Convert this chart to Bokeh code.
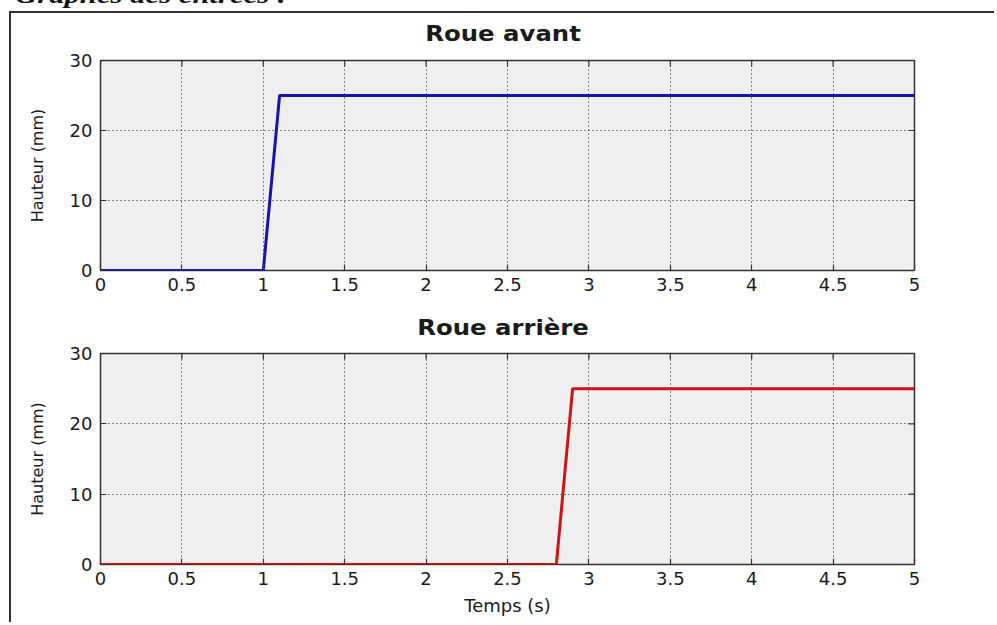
from bokeh.plotting import figure
from bokeh.layouts import column
from bokeh.models import Range1d, FixedTicker, Div
from bokeh.embed import file_html
from bokeh.resources import INLINE

# ---- data ----
t_avant = [0.0, 1.0, 1.1, 5.0]
h_avant = [0.0, 0.0, 25.0, 25.0]
t_arriere = [0.0, 2.8, 2.9, 5.0]
h_arriere = [0.0, 0.0, 25.0, 25.0]

x_ticks = [0, 0.5, 1, 1.5, 2, 2.5, 3, 3.5, 4, 4.5, 5]
x_tick_labels = ["0", "0.5", "1", "1.5", "2", "2.5", "3", "3.5", "4", "4.5", "5"]
y_ticks = [0, 10, 20, 30]
y_tick_labels = ["0", "10", "20", "30"]

titles = ["Roue avant", "Roue arrière"]
y_label = "Hauteur (mm)"
x_label = "Temps (s)"
header_text = "Graphes des entrées :"

X_MIN, X_MAX = 0, 5
Y_MIN, Y_MAX = 0, 30

FONT = "DejaVu Sans"
TXT = "#1a1a1a"
FRAME_W = 814
BORDER_L, BORDER_R = 89, 80
FIG_W = BORDER_L + FRAME_W + BORDER_R
TICK_PX = 6


def make_fig(t, h, color, top, bottom, height, show_xlabel):
    p = figure(
        frame_width=FRAME_W, frame_height=height,
        min_border_left=BORDER_L, min_border_right=BORDER_R,
        min_border_top=top, min_border_bottom=bottom,
        x_range=Range1d(X_MIN, X_MAX), y_range=Range1d(Y_MIN, Y_MAX),
        output_backend="svg", toolbar_location=None,
        background_fill_color="#efefef", border_fill_color="white",
    )
    p.outline_line_color = "#333333"
    p.outline_line_width = 1.5
    p.outline_line_alpha = 1.0

    p.xaxis.ticker = FixedTicker(ticks=x_ticks)
    p.xaxis.major_label_overrides = dict(zip(x_ticks, x_tick_labels))
    p.yaxis.ticker = FixedTicker(ticks=y_ticks)
    p.yaxis.major_label_overrides = dict(zip(y_ticks, y_tick_labels))

    for ax in (p.xaxis[0], p.yaxis[0]):
        ax.axis_line_color = None
        ax.major_tick_in = TICK_PX
        ax.major_tick_out = 0
        ax.major_tick_line_color = "#333333"
        ax.major_tick_line_width = 1.2
        ax.minor_tick_line_color = None
        ax.major_label_text_font = FONT
        ax.major_label_text_font_size = "18px"
        ax.major_label_text_color = TXT
        ax.axis_label_text_font = FONT
        ax.axis_label_text_font_style = "normal"
        ax.axis_label_text_color = TXT
    p.xaxis.major_label_standoff = 7
    p.yaxis.major_label_standoff = 8
    p.yaxis.axis_label = y_label
    p.yaxis.axis_label_text_font_size = "16px"
    p.yaxis.axis_label_standoff = 20
    if show_xlabel:
        p.xaxis.axis_label = x_label
        p.xaxis.axis_label_text_font_size = "18px"
        p.xaxis.axis_label_standoff = 7

    p.xgrid.ticker = FixedTicker(ticks=x_ticks)
    p.ygrid.ticker = FixedTicker(ticks=y_ticks)
    p.grid.grid_line_color = "black"
    p.grid.grid_line_dash = "1 3"
    p.grid.grid_line_width = 1
    p.grid.grid_line_alpha = 0.9

    # inward ticks on the top and right edges of the box (MATLAB style)
    dy = TICK_PX * (Y_MAX - Y_MIN) / height
    dx = TICK_PX * (X_MAX - X_MIN) / FRAME_W
    p.segment(x0=x_ticks, y0=[Y_MAX] * len(x_ticks),
              x1=x_ticks, y1=[Y_MAX - dy] * len(x_ticks),
              line_color="#333333", line_width=1.2)
    p.segment(x0=[X_MAX] * len(y_ticks), y0=y_ticks,
              x1=[X_MAX - dx] * len(y_ticks), y1=y_ticks,
              line_color="#333333", line_width=1.2)

    p.line(t, h, line_color=color, line_width=3)
    return p


def title_div(text, h, pad):
    html = ('<div style="box-sizing:border-box;width:%dpx;height:%dpx;'
            'padding-left:1px;padding-top:%dpx;text-align:center;'
            "font-family:'DejaVu Sans';font-weight:bold;font-size:21px;"
            'line-height:24px;color:%s;white-space:nowrap;">'
            '<span style="display:inline-block;transform:scaleX(1.16);">%s</span></div>'
            % (FIG_W, h, pad, TXT, text))
    return Div(text=html, width=FIG_W, height=h, margin=(0, 0, 0, 0))


f1 = make_fig(t_avant, h_avant, "#1414b0", 13, 40, 210, False)
f2 = make_fig(t_arriere, h_arriere, "#d01414", 13, 58, 211, True)

d1 = title_div(titles[0], 34, 9)
d2 = title_div(titles[1], 30, 6)

header = Div(
    text=('<div style="position:relative;top:-22px;left:15px;'
          "font-family:'Liberation Serif';font-style:italic;font-weight:bold;"
          'font-size:24px;white-space:nowrap;color:#111;'
          'transform:scaleX(1.28);transform-origin:left;">' + header_text + '</div>'),
    width=340, height=11, margin=(0, 0, 0, 0),
    styles={"overflow": "visible"},
)

inner = column(d1, f1, d2, f2, margin=(0, 0, 0, 9),
               styles={"border-left": "2px solid #333", "border-top": "2px solid #333"})
layout = column(header, inner)

open("out.html", "w").write(file_html(layout, INLINE))
